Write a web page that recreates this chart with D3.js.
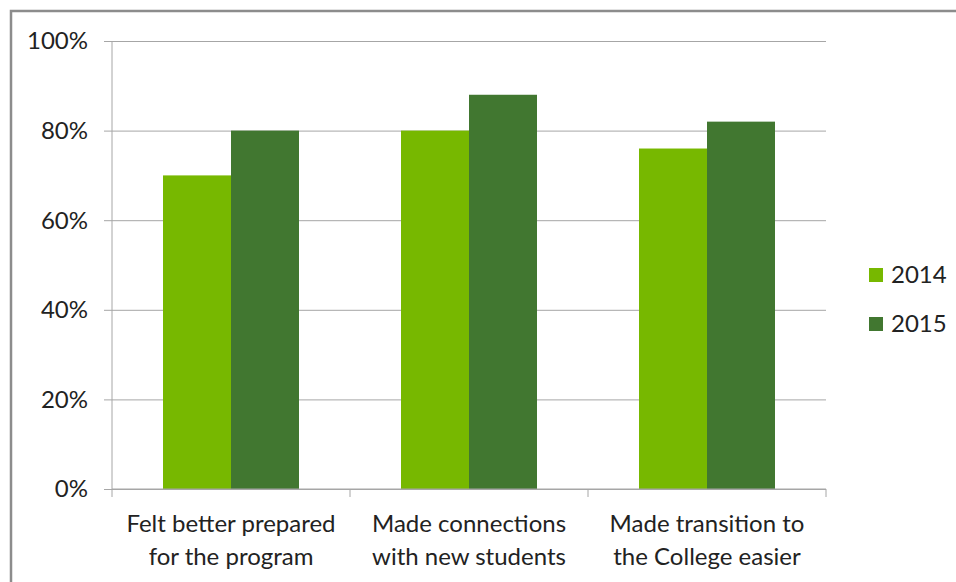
<!DOCTYPE html>
<html>
<head>
<meta charset="utf-8">
<script src="https://cdn.jsdelivr.net/npm/d3@7"></script>
<style>
  body { margin: 0; background: #fff; }
  svg { display: block; font-family: Lato, "Open Sans", sans-serif; }
</style>
</head>
<body>
<svg id="chart"></svg>
<script>
// Data
var categories = [
    ["Felt better prepared", "for the program"],
    ["Made connections", "with new students"],
    ["Made transition to", "the College easier"]
];
var years = ["2014", "2015"];
var values2014 = [0.70, 0.80, 0.76];
var values2015 = [0.80, 0.88, 0.82];
var yTicks = [0, 0.2, 0.4, 0.6, 0.8, 1.0];
var colors = ["#77b800", "#417730"];

var width = 956, height = 582;
var margin = { top: 41, right: 130, bottom: 93, left: 112 };
var fontSize = 24;

var svg = d3.select('#chart')
    .attr('width', width)
    .attr('height', height);

// outer frame
svg.append('rect')
    .attr('x', 11).attr('y', 11)
    .attr('width', width + 10).attr('height', height + 10)
    .attr('fill', 'none')
    .attr('stroke', '#8c8c8c')
    .attr('stroke-width', 2.5);

var x = d3.scaleBand()
    .domain(d3.range(categories.length))
    .range([margin.left, width - margin.right])
    .paddingInner(0).paddingOuter(0);

var x1 = d3.scaleBand()
    .domain(years)
    .range([0, x.bandwidth()])
    .paddingInner(0)
    .paddingOuter(0.75);

var y = d3.scaleLinear()
    .domain([0, 1])
    .range([height - margin.bottom, margin.top]);

// gridlines with left ticks
svg.append('g')
    .attr('transform', `translate(${margin.left},0)`)
    .call(d3.axisLeft(y).tickValues(yTicks)
        .tickSize(-(width - margin.left - margin.right))
        .tickFormat(''))
    .call(g => g.selectAll('line').attr('stroke', '#a6a6a6').attr('x1', -8))
    .call(g => g.select('.domain').remove());

// y labels
svg.append('g')
    .selectAll('text')
    .data(yTicks)
    .join('text')
    .attr('x', 88)
    .attr('y', d => y(d))
    .attr('dy', '0.35em')
    .attr('text-anchor', 'end')
    .attr('font-size', fontSize)
    .attr('fill', '#222')
    .text(d3.format('.0%'));

// bars
var rows = categories.map((c, i) => [
    { key: years[0], value: values2014[i], color: colors[0] },
    { key: years[1], value: values2015[i], color: colors[1] }
]);

svg.append('g')
    .selectAll('g')
    .data(rows)
    .join('g')
    .attr('transform', (d, i) => `translate(${x(i)},0)`)
    .selectAll('rect')
    .data(d => d)
    .join('rect')
    .attr('x', d => x1(d.key))
    .attr('width', x1.bandwidth())
    .attr('y', d => y(d.value))
    .attr('height', d => y(0) - y(d.value))
    .attr('fill', d => d.color);

// y axis line
svg.append('line')
    .attr('x1', margin.left).attr('x2', margin.left)
    .attr('y1', y(1)).attr('y2', y(0))
    .attr('stroke', '#a6a6a6');

// x axis line + ticks
svg.append('line')
    .attr('x1', margin.left).attr('x2', width - margin.right)
    .attr('y1', y(0)).attr('y2', y(0))
    .attr('stroke', '#a6a6a6');

var tickXs = d3.range(categories.length + 1).map(i =>
    i < categories.length ? x(i) : x(i - 1) + x.bandwidth());
svg.append('g')
    .selectAll('line')
    .data(tickXs)
    .join('line')
    .attr('x1', d => d).attr('x2', d => d)
    .attr('y1', y(0)).attr('y2', y(0) + 8)
    .attr('stroke', '#a6a6a6');

// category labels
var catText = svg.append('g')
    .selectAll('text')
    .data(categories)
    .join('text')
    .attr('text-anchor', 'middle')
    .attr('font-size', fontSize)
    .attr('fill', '#222')
    .attr('x', (d, i) => x(i) + x.bandwidth() / 2);

catText.selectAll('tspan')
    .data(d => d)
    .join('tspan')
    .attr('x', function () { return d3.select(this.parentNode).attr('x'); })
    .attr('y', (d, j) => 532 + j * 33)
    .text(d => d);

// legend
var legend = svg.append('g')
    .selectAll('g')
    .data(years)
    .join('g')
    .attr('transform', (d, i) => `translate(869,${268 + i * 49})`);

legend.append('rect')
    .attr('width', 14).attr('height', 14)
    .attr('fill', (d, i) => colors[i]);

legend.append('text')
    .attr('x', 22).attr('y', 7)
    .attr('dy', '0.35em')
    .attr('font-size', fontSize)
    .attr('fill', '#222')
    .text(d => d);
</script>
</body>
</html>
